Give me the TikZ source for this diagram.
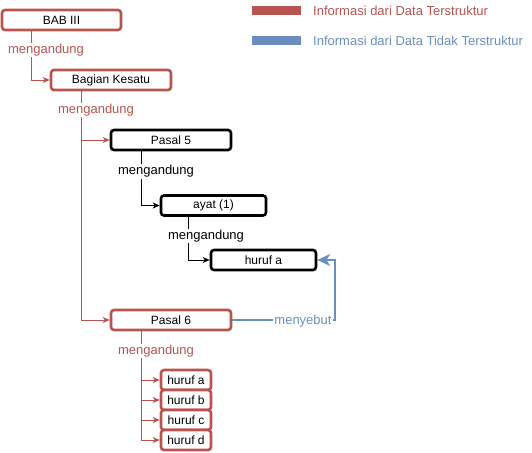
\documentclass[tikz,border=0pt]{standalone}
\usepackage{fontspec}
\setmainfont{Liberation Sans}
\usetikzlibrary{arrows.meta}
\definecolor{myred}{HTML}{B85450}
\definecolor{myblue}{HTML}{6C8EBF}
\tikzset{
  box/.style={draw=#1, line width=2.6pt, rounded corners=3pt, fill=white, inner sep=0pt, font=\fontsize{12}{14}\selectfont, text=black},
  redbox/.style={box=myred},
  blackbox/.style={box=black},
  lbl/.style={font=\fontsize{13}{15}\selectfont, fill=white, inner sep=1pt},
  conn/.style={line width=0.9pt, -{Stealth[length=7pt,width=6pt,inset=2pt]}},
  legtxt/.style={font=\fontsize{13}{15}\selectfont, anchor=west, inner sep=0pt},
}
\begin{document}
\begin{tikzpicture}[x=1pt,y=-1pt]
\useasboundingbox (0,0) rectangle (532,452);
% legend
\fill[myred] (252,6.5) rectangle (301,15.5);
\node[legtxt, text=myred] (l1) at (313,11) {Informasi dari Data Terstruktur};
\fill[myblue] (252,36.5) rectangle (301,45.5);
\node[legtxt, text=myblue] (l2) at (313,41) {Informasi dari Data Tidak Terstruktur};
% nodes
\node[redbox, minimum width=119pt, minimum height=20pt] (bab) at (61.5,20) {BAB III};
\node[redbox, minimum width=120pt, minimum height=20pt] (bag) at (111,80) {Bagian Kesatu};
\node[blackbox, minimum width=120pt, minimum height=20pt] (p5) at (171,140) {Pasal 5};
\node[blackbox, minimum width=105pt, minimum height=20pt] (ay) at (213.5,205.5) {ayat (1)};
\node[blackbox, minimum width=105pt, minimum height=20pt] (ha) at (263.5,260) {huruf a};
\node[redbox, minimum width=120pt, minimum height=20pt] (p6) at (171,320) {Pasal 6};
\node[redbox, minimum width=50pt, minimum height=20pt] (h1) at (186,380) {huruf a};
\node[redbox, minimum width=50pt, minimum height=20pt] (h2) at (186,400) {huruf b};
\node[redbox, minimum width=50pt, minimum height=20pt] (h3) at (186,420) {huruf c};
\node[redbox, minimum width=50pt, minimum height=20pt] (h4) at (186,440) {huruf d};
% connectors
\begin{scope}[on background layer/.try]
\draw[conn, myred] ([xshift=-30.5pt]bab.south) |- (bag.west);
\draw[conn, myred] ([xshift=-30pt]bag.south) |- (p5.west);
\draw[conn, myred] ([xshift=-30pt]bag.south) |- (p6.west);
\draw[conn, black] ([xshift=-30pt]p5.south) |- (ay.west);
\draw[conn, black] ([xshift=-25.5pt]ay.south) |- (ha.west);
\draw[conn, myred] ([xshift=-30pt]p6.south) |- (h1.west);
\draw[conn, myred] ([xshift=-30pt]p6.south) |- (h2.west);
\draw[conn, myred] ([xshift=-30pt]p6.south) |- (h3.west);
\draw[conn, myred] ([xshift=-30pt]p6.south) |- (h4.west);
\coordinate (bc) at (335,320);
\draw[myblue, line width=2.6pt, -{Stealth[length=13pt,width=12pt,inset=4pt]}] (p6.east) -- (bc) |- (ha.east);
\end{scope}
% labels
\node[lbl, text=myred] (m1) at (46,50) {mengandung};
\node[lbl, text=myred] (m2) at (96,110) {mengandung};
\node[lbl, text=black] (m3) at (156,171.5) {mengandung};
\node[lbl, text=black] (m4) at (206,236) {mengandung};
\node[lbl, text=myred] (m5) at (156,351) {mengandung};
\node[lbl, text=myblue] (m6) at (303,321) {menyebut};
\end{tikzpicture}
\end{document}
